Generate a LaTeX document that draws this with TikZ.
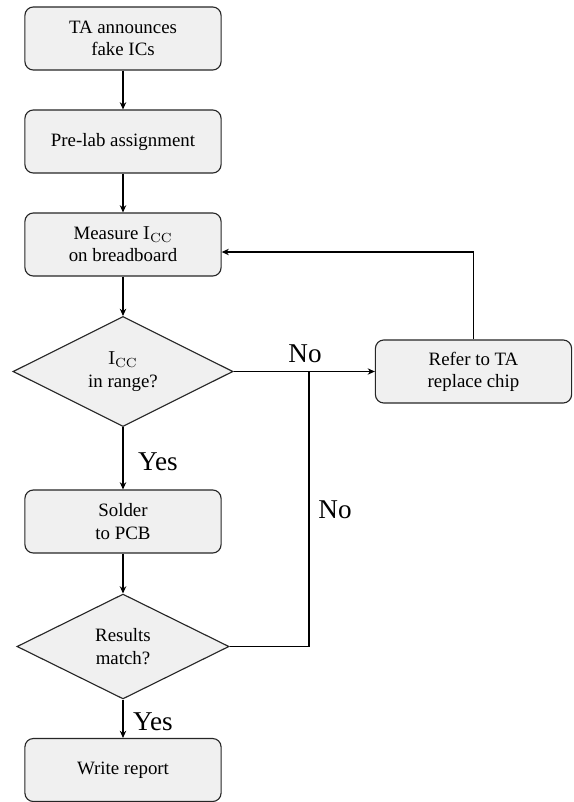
\documentclass[tikz,border=0pt]{standalone}
\usepackage[no-math]{fontspec}
\setmainfont{Liberation Serif}
\usetikzlibrary{shapes.geometric,arrows.meta,calc}
\begin{document}
\begin{tikzpicture}[x=0.53pt,y=-0.53pt,
  box/.style={draw=black!85, fill=black!6, rounded corners=4.5pt, line width=0.6pt,
    minimum width=104pt, minimum height=33.4pt, align=center, inner sep=2pt,
    font=\fontsize{10}{11.8}\selectfont},
  dec/.style={draw=black!85, fill=black!6, diamond, aspect=2, line width=0.6pt,
    inner sep=0pt, align=center, font=\fontsize{10}{11.8}\selectfont},
  arr/.style={-{Stealth[length=3.8pt,width=3.4pt]}, line width=0.6pt},
  plain/.style={line width=0.6pt},
  lbl/.style={font=\Large, inner sep=0pt}]
\useasboundingbox (0,0) rectangle (574,802);

\node[box] (ta) at (123,38.5) {TA announces\\fake ICs};
\node[box] (pre) at (123,141.5) {Pre-lab assignment};
\node[box] (meas) at (123,244.5) {Measure $\mathrm{I_{CC}}$\\on breadboard};
\node[dec, minimum width=116.6pt, minimum height=58.3pt] (d1) at (123,371.5) {$\mathrm{I_{CC}}$\\in range?};
\node[box] (sold) at (123,521.5) {Solder\\to PCB};
\node[dec, minimum width=112.4pt, minimum height=55.6pt] (d2) at (123,646.5) {Results\\match?};
\node[box] (rep) at (123,770) {Write report};
\node[box] (ref) at (473.5,371.5) {Refer to TA\\replace chip};

\coordinate (j) at (309,371.5);

\draw[arr] (ta) -- (pre);
\draw[arr] (pre) -- (meas);
\draw[arr] (meas) -- (d1);
\draw[arr] (d1) -- (sold);
\draw[arr] (sold) -- (d2);
\draw[arr] (d2) -- (rep);
\draw[arr] (d1.east) -- (ref.west);
\draw[plain] (d2.east) -| (j);
\draw[arr] (ref.north) |- ($(meas.east)+(0,7.5)$);

\node[lbl] (no1) at (305,354) {No};
\node[lbl] (no2) at (335,510) {No};
\node[lbl] (yes1) at (158,462) {Yes};
\node[lbl] (yes2) at (153,722) {Yes};
\end{tikzpicture}
\end{document}
